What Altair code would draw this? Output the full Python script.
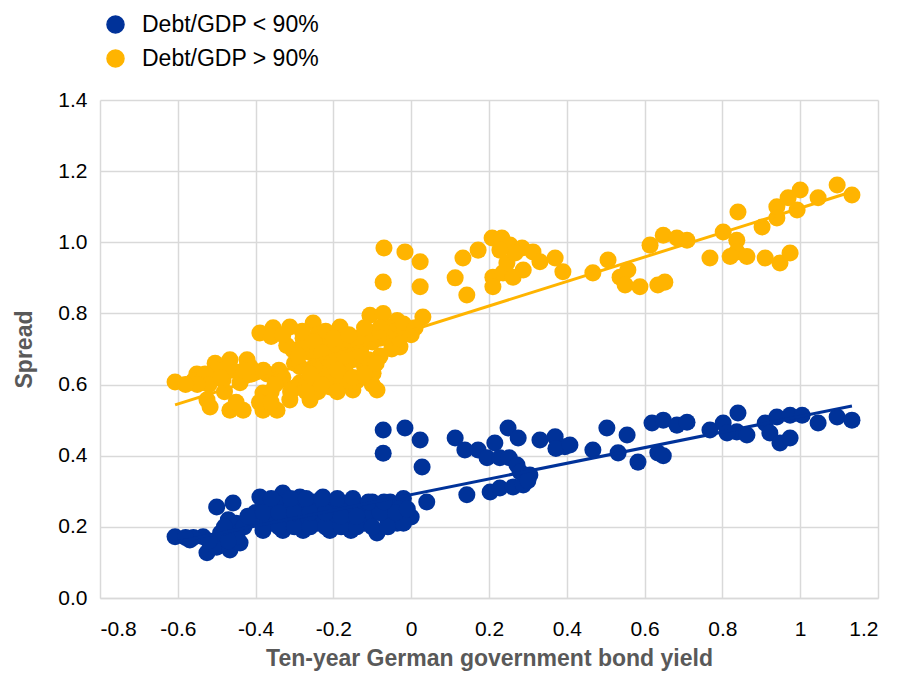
import altair as alt
import pandas as pd

series_names = ["Debt/GDP < 90%", "Debt/GDP > 90%"]
colors = ["#003299", "#ffb400"]

high_x = [-0.607, -0.551, -0.504, -0.466, -0.422, -0.389, -0.355, -0.312, -0.278, -0.252,
          -0.183, -0.106, -0.072, -0.036, 0.030, -0.525, -0.517, -0.466, -0.432, -0.381,
          -0.345, -0.381, -0.312, -0.26, -0.209, -0.15, -0.088, -0.098, -0.15, -0.191,
          -0.175, -0.114, -0.054, -0.029, -0.286, -0.33, -0.242, -0.2, -0.286,
          -0.304, -0.234, -0.216, -0.44, -0.484, -0.414, -0.5, -0.46, -0.37,
          -0.26, -0.13, -0.08, -0.12, -0.06, 0.0, -0.072, 0.023, -0.07, -0.016,
          0.023, 0.113, 0.143, 0.133, 0.172, 0.208, 0.233, 0.254, 0.285, 0.313,
          0.331, 0.37, 0.39, 0.21, 0.21, 0.236, 0.262, 0.288, 0.246, 0.267,
          0.228, 0.467, 0.506, 0.537, 0.557, 0.55, 0.588, 0.634, 0.652, 0.614,
          0.648, 0.683, 0.709, 0.768, 0.802, 0.837, 0.837, 0.82, 0.863, 0.84,
          0.91, 0.948, 0.974, 0.902, 0.94, 0.94, 0.969, 1.0, 0.992, 1.046,
          1.095, 1.133,
          -0.48, -0.45, -0.36, -0.34, -0.30, -0.27, -0.24, -0.22, -0.18, -0.17,
          -0.14, -0.10, -0.16, -0.20, -0.25, -0.30, -0.32, -0.28, -0.24, -0.36,
          -0.33, -0.28, -0.22, -0.14, -0.10, -0.08, -0.04, -0.02, 0.01, -0.05,
          -0.11, -0.56, -0.53, -0.47, -0.41, -0.52,
          -0.39, -0.36, -0.31, -0.27, -0.23, -0.19, -0.15, -0.12, -0.26, -0.21,
          -0.17, -0.13, -0.09, -0.06, -0.03, -0.34, -0.29, -0.19, -0.25, -0.20,
          -0.16, -0.12, -0.08, -0.49, -0.55, -0.58, -0.43, -0.38, -0.35, -0.23]
high_y = [0.607, 0.63, 0.66, 0.67, 0.67, 0.745, 0.76, 0.762, 0.73, 0.773,
          0.762, 0.795, 0.80, 0.78, 0.79, 0.557, 0.537, 0.528, 0.528, 0.528,
          0.528, 0.576, 0.557, 0.557, 0.593, 0.585, 0.585, 0.632, 0.67, 0.697,
          0.734, 0.745, 0.725, 0.706, 0.65, 0.62, 0.62, 0.62, 0.605,
          0.697, 0.678, 0.717, 0.605, 0.613, 0.65, 0.64, 0.64, 0.63,
          0.69, 0.70, 0.68, 0.65, 0.76, 0.74, 0.888, 0.875, 0.984, 0.973,
          0.945, 0.90, 0.852, 0.956, 0.978, 1.012, 1.012, 0.992, 0.984, 0.973,
          0.945, 0.956, 0.917, 0.902, 0.875, 0.914, 0.902, 0.922, 0.942, 0.97,
          0.978, 0.914, 0.95, 0.902, 0.922, 0.88, 0.875, 0.88, 0.888, 0.992,
          1.02, 1.012, 1.006, 0.956, 1.029, 1.006, 0.973, 0.96, 0.96, 1.085,
          0.956, 0.942, 0.97, 1.043, 1.10, 1.068, 1.125, 1.147, 1.091, 1.125,
          1.161, 1.133,
          0.58, 0.55, 0.58, 0.61, 0.59, 0.60, 0.58, 0.64, 0.60, 0.64,
          0.61, 0.60, 0.70, 0.66, 0.65, 0.66, 0.71, 0.70, 0.74, 0.735,
          0.74, 0.75, 0.75, 0.73, 0.72, 0.76, 0.75, 0.77, 0.76, 0.70,
          0.67, 0.61, 0.63, 0.65, 0.63, 0.60,
          0.55, 0.55, 0.58, 0.58, 0.60, 0.58, 0.62, 0.63, 0.63, 0.67,
          0.68, 0.69, 0.66, 0.73, 0.73, 0.64, 0.68, 0.64, 0.72, 0.73,
          0.74, 0.76, 0.73, 0.62, 0.60, 0.60, 0.64, 0.64, 0.60, 0.69]

low_x = [-0.607, -0.569, -0.525, -0.5, -0.466, -0.44, -0.535, -0.49, -0.448, -0.5,
         -0.458, -0.389, -0.33, -0.286, -0.227, -0.19, -0.155, -0.10, -0.054, -0.02,
         -0.381, -0.33, -0.278, -0.209, -0.155, -0.088, -0.036, 0.0, -0.414, -0.37,
         -0.33, -0.286, -0.242, -0.2, -0.138, -0.072, -0.362, -0.312, -0.26, -0.19,
         -0.12, -0.054, -0.45, -0.43, -0.072, -0.016, 0.023, -0.072, 0.028, 0.04,
         0.113, 0.138, 0.172, 0.195, 0.215, 0.228, 0.249, 0.275, 0.252, 0.272,
         0.28, 0.305, 0.143, 0.203, 0.228, 0.262, 0.288, 0.30, 0.331, 0.37,
         0.395, 0.372, 0.408, 0.467, 0.503, 0.532, 0.555, 0.583, 0.634, 0.648,
         0.619, 0.648, 0.683, 0.709, 0.768, 0.802, 0.84, 0.837, 0.863, 0.812,
         0.91, 0.922, 0.948, 0.974, 0.94, 0.974, 1.005, 1.046, 1.095, 1.133,
         -0.40, -0.36, -0.32, -0.28, -0.24, -0.20, -0.16, -0.12, -0.10, -0.06,
         -0.03, -0.35, -0.30, -0.25, -0.21, -0.17, -0.14, -0.42, -0.47, -0.56,
         -0.47, -0.48,
         -0.38, -0.34, -0.30, -0.26, -0.22, -0.18, -0.14, -0.10, -0.06, -0.02,
         -0.38, -0.34, -0.30, -0.26, -0.22, -0.18, -0.14, -0.08, -0.04, -0.01,
         -0.36, -0.31, -0.27, -0.23, -0.19, -0.15, -0.11, -0.07, -0.52, -0.58]
low_y = [0.172, 0.163, 0.127, 0.143, 0.135, 0.155, 0.172, 0.183, 0.172, 0.256,
         0.267, 0.284, 0.295, 0.284, 0.284, 0.265, 0.27, 0.27, 0.27, 0.28,
         0.19, 0.19, 0.19, 0.19, 0.19, 0.183, 0.21, 0.228, 0.219, 0.228,
         0.237, 0.237, 0.228, 0.237, 0.228, 0.237, 0.256, 0.256, 0.256, 0.246,
         0.256, 0.256, 0.21, 0.20, 0.472, 0.478, 0.444, 0.407, 0.368, 0.27,
         0.45, 0.416, 0.416, 0.394, 0.436, 0.394, 0.478, 0.45, 0.394, 0.374,
         0.354, 0.346, 0.29, 0.298, 0.309, 0.312, 0.318, 0.33, 0.444, 0.453,
         0.425, 0.42, 0.43, 0.416, 0.478, 0.408, 0.458, 0.382, 0.408, 0.40,
         0.492, 0.50, 0.486, 0.494, 0.472, 0.492, 0.52, 0.467, 0.458, 0.464,
         0.492, 0.464, 0.436, 0.45, 0.509, 0.514, 0.514, 0.492, 0.509, 0.50,
         0.24, 0.21, 0.22, 0.21, 0.21, 0.21, 0.21, 0.21, 0.24, 0.22,
         0.25, 0.27, 0.27, 0.27, 0.26, 0.25, 0.25, 0.23, 0.22, 0.17,
         0.16, 0.20,
         0.20, 0.20, 0.20, 0.20, 0.20, 0.20, 0.20, 0.20, 0.20, 0.21,
         0.24, 0.24, 0.24, 0.24, 0.24, 0.23, 0.23, 0.24, 0.24, 0.25,
         0.28, 0.28, 0.28, 0.28, 0.28, 0.28, 0.27, 0.27, 0.16, 0.17]

# fitted trend lines as shown in the chart (start / end of each line)
trend_x = [-0.607, 1.133]
trend_low_y = [0.157, 0.540]
trend_high_y = [0.543, 1.142]

x_ticks = [-0.8, -0.6, -0.4, -0.2, 0, 0.2, 0.4, 0.6, 0.8, 1, 1.2]
y_ticks = [0.0, 0.2, 0.4, 0.6, 0.8, 1.0, 1.2, 1.4]

df = pd.concat([
    pd.DataFrame({"x": low_x, "y": low_y, "series": series_names[0]}),
    pd.DataFrame({"x": high_x, "y": high_y, "series": series_names[1]}),
], ignore_index=True)

trend_df = pd.concat([
    pd.DataFrame({"x": trend_x, "y": trend_low_y, "series": series_names[0]}),
    pd.DataFrame({"x": trend_x, "y": trend_high_y, "series": series_names[1]}),
], ignore_index=True)

FONT = "Liberation Sans"

xenc = alt.X("x:Q", scale=alt.Scale(domain=[-0.8, 1.2], nice=False, zero=False),
             axis=alt.Axis(values=x_ticks, title="Ten-year German government bond yield",
                           labelExpr="datum.value < 0 ? '-' + format(-datum.value, '~g') : format(datum.value, '~g')"))
yenc = alt.Y("y:Q", scale=alt.Scale(domain=[0, 1.4], nice=False),
             axis=alt.Axis(values=y_ticks, title="Spread", format=".1f"))
cscale = alt.Scale(domain=series_names, range=colors)

points = alt.Chart(df).mark_circle(size=290, opacity=1).encode(
    x=xenc, y=yenc,
    color=alt.Color("series:N", scale=cscale,
                    legend=alt.Legend(title=None, orient="none", legendX=4, legendY=-87,
                                      symbolType="circle", symbolSize=290,
                                      labelFontSize=23, labelFont=FONT, labelColor="#000000",
                                      labelOffset=15, rowPadding=9, labelLimit=500)),
    order=alt.Order("series:N", sort="ascending"),
)

lines = alt.Chart(trend_df).mark_line(strokeWidth=3).encode(
    x="x:Q", y="y:Q",
    color=alt.Color("series:N", scale=cscale, legend=None),
    detail="series:N",
)

chart = alt.layer(points, lines).properties(
    width=778, height=498,
    autosize=alt.AutoSizeParams(type="none"),
    padding={"left": 92, "top": 92, "right": 24, "bottom": 76},
).configure_view(stroke=None).configure_axis(
    labelFont=FONT, labelFontSize=21, labelColor="#000000",
    titleFont=FONT, titleFontSize=23, titleColor="#595959", titleFontWeight="bold",
    grid=True, gridColor="#d9d9d9", gridWidth=1.5,
    ticks=False, domain=False, labelPadding=13,
).configure_axisX(
    domain=True, domainColor="#d9d9d9", domainWidth=1.5, titlePadding=8, labelPadding=20,
).configure_axisY(
    titlePadding=21,
)

chart.save("out.html", embed_options={"renderer": "svg", "actions": False})
